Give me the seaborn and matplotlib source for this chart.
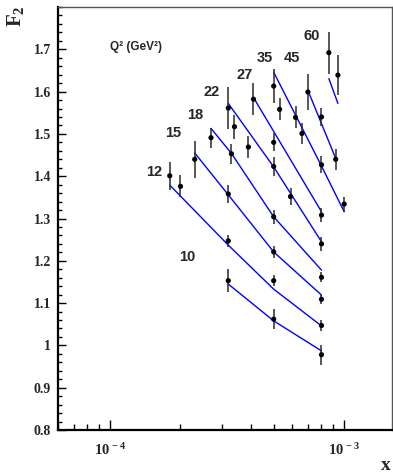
import numpy as np
import pandas as pd
import matplotlib
matplotlib.use("Agg")
import matplotlib.pyplot as plt
import seaborn as sns
from matplotlib.ticker import FixedLocator, FixedFormatter, LogLocator, NullFormatter, MultipleLocator, FuncFormatter

# Q^2 bins (GeV^2)
q2_values = [10, 12, 15, 18, 22, 27, 35, 45, 60]

# Measured F2 points per Q^2 bin
x_data = {
    10: [3.2e-4, 5.0e-4, 8.0e-4],
    12: [1.8e-4, 2.0e-4, 3.2e-4, 5.0e-4, 8.0e-4],
    15: [2.3e-4, 3.2e-4, 5.0e-4, 8.0e-4],
    18: [2.7e-4, 3.3e-4, 5.0e-4, 8.0e-4],
    22: [3.2e-4, 3.4e-4, 3.9e-4, 5.0e-4, 5.9e-4, 8.0e-4],
    27: [4.1e-4, 5.0e-4, 8.0e-4],
    35: [5.0e-4, 5.3e-4, 6.2e-4, 6.6e-4, 8.0e-4, 1.0e-3],
    45: [7.0e-4, 8.0e-4, 9.2e-4],
    60: [8.6e-4, 9.4e-4],
}
f2_data = {
    10: [1.153, 1.062, 0.978],
    12: [1.401, 1.376, 1.247, 1.153, 1.047],
    15: [1.440, 1.358, 1.221, 1.109],
    18: [1.491, 1.453, 1.304, 1.161],
    22: [1.561, 1.517, 1.469, 1.423, 1.352, 1.240],
    27: [1.582, 1.480, 1.308],
    35: [1.613, 1.558, 1.539, 1.501, 1.427, 1.334],
    45: [1.599, 1.540, 1.440],
    60: [1.692, 1.639],
}
f2_err = {
    10: [0.027, 0.024, 0.024],
    12: [0.033, 0.026, 0.014, 0.013, 0.012],
    15: [0.044, 0.021, 0.014, 0.010],
    18: [0.024, 0.023, 0.016, 0.012],
    22: [0.049, 0.028, 0.026, 0.022, 0.020, 0.017],
    27: [0.038, 0.021, 0.016],
    35: [0.041, 0.026, 0.026, 0.024, 0.020, 0.018],
    45: [0.042, 0.021, 0.025],
    60: [0.050, 0.048],
}

# Fit curves per Q^2 bin
x_fit = {
    10: [3.2e-4, 5.0e-4, 8.0e-4],
    12: [1.8e-4, 3.2e-4, 5.0e-4, 8.0e-4],
    15: [2.3e-4, 3.2e-4, 5.0e-4, 8.0e-4],
    18: [2.7e-4, 3.3e-4, 5.0e-4, 8.0e-4],
    22: [3.2e-4, 5.0e-4, 8.0e-4],
    27: [4.1e-4, 8.0e-4],
    35: [5.0e-4, 8.0e-4, 1.0e-3],
    45: [7.0e-4, 9.2e-4],
    60: [8.6e-4, 9.4e-4],
}
f2_fit = {
    10: [1.145, 1.058, 0.987],
    12: [1.379, 1.237, 1.133, 1.046],
    15: [1.455, 1.356, 1.221, 1.119],
    18: [1.513, 1.454, 1.304, 1.178],
    22: [1.572, 1.422, 1.245],
    27: [1.586, 1.316],
    35: [1.646, 1.424, 1.316],
    45: [1.603, 1.442],
    60: [1.631, 1.572],
}

x_tick_values = [1e-4, 1e-3]
x_tick_labels = [r"$\mathbf{10^{\,-4}}$", r"$\mathbf{10^{\,-3}}$"]
y_tick_values = [0.8, 0.9, 1.0, 1.1, 1.2, 1.3, 1.4, 1.5, 1.6, 1.7]

points = pd.DataFrame(
    [(q, x, f, e) for q in q2_values for x, f, e in zip(x_data[q], f2_data[q], f2_err[q])],
    columns=["Q2", "x", "F2", "err"],
)
fits = pd.DataFrame(
    [(q, x, f) for q in q2_values for x, f in zip(x_fit[q], f2_fit[q])],
    columns=["Q2", "x", "F2"],
)

sns.set_style("ticks")
plt.rcParams["font.family"] = ["Liberation Serif", "DejaVu Serif"]
plt.rcParams["mathtext.fontset"] = "custom"
plt.rcParams["mathtext.rm"] = "Liberation Serif:bold"
plt.rcParams["mathtext.bf"] = "Liberation Serif:bold"
plt.rcParams["mathtext.it"] = "Liberation Serif:bold"

fig = plt.figure(figsize=(3.93, 4.74), dpi=100)
ax = fig.add_axes([58 / 393, 44 / 474, 334 / 393, 423 / 474])
ax.set_xscale("log")

sns.lineplot(data=fits, x="x", y="F2", units="Q2", estimator=None, sort=False,
             color="#0000ff", linewidth=1.0, ax=ax, zorder=2)
ax.errorbar(points["x"], points["F2"], yerr=points["err"], fmt="none",
            ecolor="#2a2a2a", elinewidth=1.1, capsize=0, zorder=3)
sns.scatterplot(data=points, x="x", y="F2", color="black", s=14,
                edgecolor="none", ax=ax, zorder=4)

ax.set_xlim(6e-5, 1.6e-3)
ax.set_ylim(0.8, 1.8)
ax.set_xlabel("")
ax.set_ylabel("")

# Q^2 bin labels
label_pos = {
    10: (2.13e-4, 1.209),
    12: (1.54e-4, 1.410),
    15: (1.87e-4, 1.501),
    18: (2.32e-4, 1.544),
    22: (2.71e-4, 1.599),
    27: (3.75e-4, 1.639),
    35: (4.57e-4, 1.680),
    45: (5.97e-4, 1.680),
    60: (7.29e-4, 1.731),
}
for q in q2_values:
    lx, ly = label_pos[q]
    ax.text(lx, ly, str(q), ha="center", va="center", fontsize=10.5,
            fontweight="bold", family="Liberation Sans")
ax.text(1.0e-4, 1.705, "Q² (GeV²)", ha="left", va="center", fontsize=8.5,
        fontweight="bold", family="Liberation Sans")

# Axes styling
ax.xaxis.set_major_locator(FixedLocator(x_tick_values))
ax.xaxis.set_major_formatter(FixedFormatter(x_tick_labels))
ax.xaxis.set_minor_locator(LogLocator(base=10, subs=np.arange(2, 10) * 1.0, numticks=20))
ax.xaxis.set_minor_formatter(NullFormatter())
ax.yaxis.set_major_locator(FixedLocator(y_tick_values))
ax.yaxis.set_major_formatter(FuncFormatter(lambda v, p: f"{v:g}"))
ax.yaxis.set_minor_locator(MultipleLocator(0.02))

ax.tick_params(axis="both", which="both", direction="in", top=False, right=False, color="black")
ax.tick_params(axis="y", which="major", length=6, width=1, pad=5, labelsize=10)
ax.tick_params(axis="y", which="minor", length=3, width=1)
ax.tick_params(axis="x", which="major", length=7, width=1, pad=9, labelsize=10.5)
ax.tick_params(axis="x", which="minor", length=4, width=1)
for lab in ax.get_yticklabels():
    lab.set_fontweight("bold")

for side in ("left", "bottom"):
    ax.spines[side].set_linewidth(1.6)
    ax.spines[side].set_color("black")
for side in ("top", "right"):
    ax.spines[side].set_linewidth(1.0)
    ax.spines[side].set_color("#555555")

fig.text(15 / 393, 1 - 5 / 474, r"$\mathbf{F_{2}}$", rotation=90, ha="center", va="top", fontsize=15)
fig.text(391 / 393, 1 - 470 / 474, "x", ha="right", va="baseline", fontsize=14,
         fontweight="bold", family="Liberation Serif")

fig.savefig("out.png", dpi=100)
